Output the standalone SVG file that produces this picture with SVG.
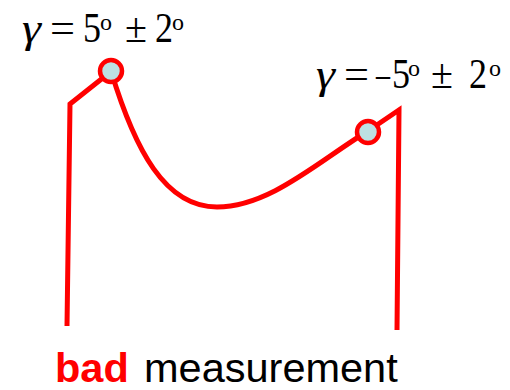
<svg xmlns="http://www.w3.org/2000/svg" width="510" height="390" viewBox="0 0 510 390">
<style>
.ln{fill:none;stroke:#ff0000;stroke-width:5;stroke-linejoin:miter}
.pt{fill:#bde0e3;stroke:#ff0000;stroke-width:4.5}
</style>
<rect width="510" height="390" fill="#fff"/>
<g id="connectors">
<path class="ln" d="M67,326 L70,104 L104,77"/>
<path class="ln" d="M111,71 C135,150 165,207 217,207 C270,207 320,160 368,131"/>
<path class="ln" d="M368,131 L399,110 L397,330"/>
</g>
<g id="node-left">
<circle class="pt" cx="111" cy="71" r="11"/>
</g>
<g id="node-right">
<circle class="pt" cx="368" cy="132" r="11"/>
</g>
<g id="label-left" font-family="Liberation Serif, Times New Roman, serif" font-size="43" fill="#000" lengthAdjust="spacingAndGlyphs">
<text x="22" y="42" font-style="italic" textLength="19" lengthAdjust="spacingAndGlyphs">γ</text>
<text x="50" y="42" textLength="25" lengthAdjust="spacingAndGlyphs">=</text>
<text x="83" y="42" textLength="18" lengthAdjust="spacingAndGlyphs">5</text>
<text x="100" y="30" font-size="24">o</text>
<text x="125" y="42" textLength="22" lengthAdjust="spacingAndGlyphs">±</text>
<text x="155" y="42" textLength="18" lengthAdjust="spacingAndGlyphs">2</text>
<text x="172" y="30" font-size="24">o</text>
</g>
<g id="label-right" font-family="Liberation Serif, Times New Roman, serif" font-size="43" fill="#000">
<text x="316" y="88" font-style="italic" textLength="19" lengthAdjust="spacingAndGlyphs">γ</text>
<text x="344" y="88" textLength="25" lengthAdjust="spacingAndGlyphs">=</text>
<text x="376" y="88" textLength="14" lengthAdjust="spacingAndGlyphs">–</text>
<text x="392" y="88" textLength="18" lengthAdjust="spacingAndGlyphs">5</text>
<text x="408" y="76" font-size="24">o</text>
<text x="431" y="88" textLength="22" lengthAdjust="spacingAndGlyphs">±</text>
<text x="469" y="88" textLength="18" lengthAdjust="spacingAndGlyphs">2</text>
<text x="489" y="76" font-size="24">o</text>
</g>
<g id="caption" font-family="Liberation Sans, Arial, sans-serif" font-size="41.5">
<text x="55" y="382"><tspan fill="#ff0000" font-weight="bold">bad</tspan><tspan fill="#000" x="144">measurement</tspan></text>
</g>
</svg>
